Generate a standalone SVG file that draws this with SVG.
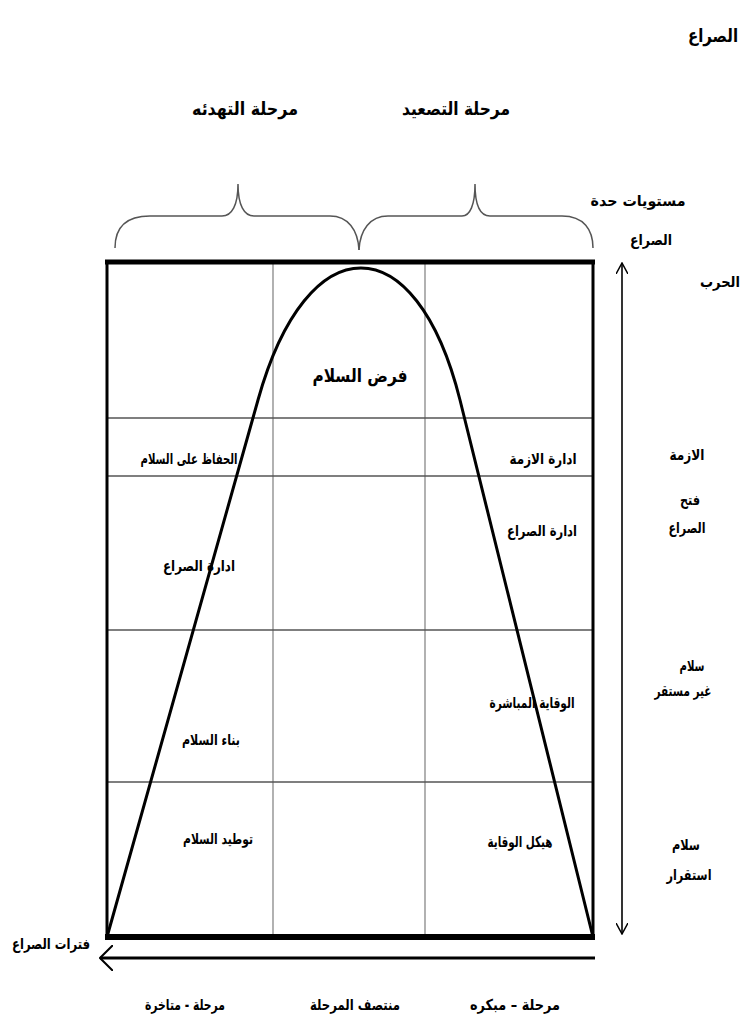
<svg xmlns="http://www.w3.org/2000/svg" width="747" height="1033" viewBox="0 0 747 1033">
<style>
.t{font-family:"DejaVu Sans",sans-serif;font-weight:bold;font-size:15px;fill:#000;text-anchor:middle}
.big{font-size:18px}
.grid{stroke:#888;stroke-width:1.3;fill:none}
.hgrid{stroke:#555;stroke-width:1.6;fill:none}
.brace{stroke:#555;stroke-width:1.5;fill:none}
.axis{stroke:#000;stroke-width:1.6;fill:none}
</style>
<defs>
<marker id="ah" viewBox="0 0 12 12" refX="11" refY="6" markerWidth="12" markerHeight="12" markerUnits="userSpaceOnUse" orient="auto-start-reverse">
<path d="M0,0 L11,6 L0,12" fill="none" stroke="#000" stroke-width="1.5"/>
</marker>
<marker id="ah2" viewBox="0 0 14 26" refX="13" refY="13" markerWidth="14" markerHeight="26" markerUnits="userSpaceOnUse" orient="auto">
<path d="M0,0 L13,13 L0,26" fill="none" stroke="#000" stroke-width="2"/>
</marker>
</defs>
<g id="title"><text class="t big" x="713" y="42" textLength="50" lengthAdjust="spacingAndGlyphs">الصراع</text></g>
<g id="phases">
<text class="t big" x="245" y="115" textLength="106" lengthAdjust="spacingAndGlyphs">مرحلة التهدئه</text>
<text class="t big" x="456" y="115" textLength="108" lengthAdjust="spacingAndGlyphs">مرحلة التصعيد</text>
</g>
<g id="braces">
<path class="brace" d="M115,248 C115,228 125,216 150,216 L222,216 C232,216 238,205 238,184 C238,205 244,216 254,216 L330,216 C348,216 358,230 359,250"/>
<path class="brace" d="M359,250 C360,230 370,216 388,216 L462,216 C470,216 475,205 475,184 C475,205 480,216 490,216 L562,216 C584,216 593,230 593,248"/>
</g>
<g id="grid">
<line class="grid" x1="273" y1="262" x2="273" y2="937"/>
<line class="grid" x1="425" y1="262" x2="425" y2="937"/>
<line class="hgrid" x1="107" y1="418" x2="593" y2="418"/>
<line class="hgrid" x1="107" y1="476" x2="593" y2="476"/>
<line class="hgrid" x1="107" y1="630" x2="593" y2="630"/>
<line class="hgrid" x1="107" y1="782" x2="593" y2="782"/>
</g>
<g id="frame">
<line x1="107" y1="262" x2="107" y2="937" stroke="#000" stroke-width="3"/>
<line x1="593" y1="262" x2="593" y2="937" stroke="#000" stroke-width="3"/>
<line x1="105" y1="262" x2="595" y2="262" stroke="#000" stroke-width="5"/>
<line x1="105" y1="937" x2="595" y2="937" stroke="#000" stroke-width="6"/>
</g>
<g id="curve">
<path d="M107,937 L258,400 C307,224 416,224 460,400 L593,937" fill="none" stroke="#000" stroke-width="3"/>
</g>
<g id="cells">
<text class="t big" x="360" y="382" textLength="95" lengthAdjust="spacingAndGlyphs">فرض السلام</text>
<text class="t" x="189" y="464" textLength="97" lengthAdjust="spacingAndGlyphs">الحفاظ على السلام</text>
<text class="t" x="543" y="464" textLength="67" lengthAdjust="spacingAndGlyphs">ادارة الازمة</text>
<text class="t" x="542" y="536" textLength="70" lengthAdjust="spacingAndGlyphs">ادارة الصراع</text>
<text class="t" x="199" y="571" textLength="72" lengthAdjust="spacingAndGlyphs">ادارة الصراع</text>
<text class="t" x="532" y="708" textLength="85" lengthAdjust="spacingAndGlyphs">الوقاية المباشرة</text>
<text class="t" x="211" y="745" textLength="58" lengthAdjust="spacingAndGlyphs">بناء السلام</text>
<text class="t" x="218" y="844" textLength="70" lengthAdjust="spacingAndGlyphs">توطيد السلام</text>
<text class="t" x="520" y="847" textLength="65" lengthAdjust="spacingAndGlyphs">هيكل الوقاية</text>
</g>
<g id="levels">
<text class="t" x="638" y="206" textLength="95" lengthAdjust="spacingAndGlyphs">مستويات حدة</text>
<text class="t" x="651" y="245" textLength="42" lengthAdjust="spacingAndGlyphs">الصراع</text>
<text class="t" x="720" y="287" textLength="40" lengthAdjust="spacingAndGlyphs">الحرب</text>
<text class="t" x="687" y="460" textLength="35" lengthAdjust="spacingAndGlyphs">الازمة</text>
<text class="t" x="690" y="505" textLength="20" lengthAdjust="spacingAndGlyphs">فتح</text>
<text class="t" x="687" y="533" textLength="37" lengthAdjust="spacingAndGlyphs">الصراع</text>
<text class="t" x="692" y="671" textLength="25" lengthAdjust="spacingAndGlyphs">سلام</text>
<text class="t" x="683" y="696" textLength="57" lengthAdjust="spacingAndGlyphs">غير مستقر</text>
<text class="t" x="686" y="850" textLength="28" lengthAdjust="spacingAndGlyphs">سلام</text>
<text class="t" x="689" y="880" textLength="45" lengthAdjust="spacingAndGlyphs">استقرار</text>
</g>
<g id="bottom">
<text class="t" x="51" y="949" textLength="78" lengthAdjust="spacingAndGlyphs">فترات الصراع</text>
<text class="t" x="185" y="1010" textLength="80" lengthAdjust="spacingAndGlyphs">مرحلة - متاخرة</text>
<text class="t" x="355" y="1010" textLength="90" lengthAdjust="spacingAndGlyphs">منتصف المرحلة</text>
<text class="t" x="515" y="1010" textLength="90" lengthAdjust="spacingAndGlyphs">مرحلة – مبكره</text>
</g>
<g id="connectors">
<line class="axis" x1="622" y1="263" x2="622" y2="934" marker-start="url(#ah)" marker-end="url(#ah)"/>
<line x1="595" y1="958" x2="100" y2="958" stroke="#000" stroke-width="3" marker-end="url(#ah2)"/>
</g>
</svg>
